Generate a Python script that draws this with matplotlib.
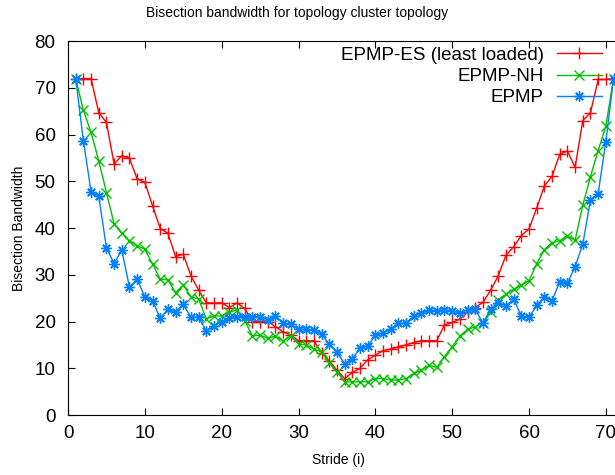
import matplotlib
matplotlib.use("Agg")
from matplotlib import pyplot as plt

plt.rcParams['font.family'] = ['Liberation Sans', 'DejaVu Sans']

stride = list(range(1, 72))

epmp_es = [72, 72, 72, 64.7, 62.6, 53.7, 55.5, 54.9, 50.5, 49.8,
           44.8, 39.9, 38.9, 33.9, 34.4, 29.8, 26.7, 24.0, 24.0, 24.0,
           23.0, 24.0, 22.8, 20.0, 20.0, 20.0, 18.9, 17.8, 17.1, 15.9,
           15.9, 15.9, 13.3, 11.6, 9.6, 7.8, 9.1, 10.0, 11.8, 12.8,
           13.8, 14.1, 14.6, 15.0, 15.5, 15.9, 15.9, 15.9, 19.3, 19.8,
           20.5, 22.0, 23.0, 24.1, 26.7, 29.8, 34.2, 36.0, 38.4, 39.8,
           44.3, 49.0, 51.1, 55.8, 56.5, 53.0, 63.0, 64.7, 71.8, 71.8,
           72]

epmp_nh = [72, 65.2, 60.5, 54.4, 47.6, 40.9, 38.9, 37.3, 36.2, 35.5,
           32.3, 29.1, 28.9, 26.2, 27.8, 25.3, 24.8, 20.6, 21.2, 21.2,
           22.0, 22.5, 20.2, 16.9, 17.1, 16.4, 16.9, 15.9, 16.9, 15.2,
           15.0, 14.1, 13.5, 11.1, 9.3, 7.1, 7.1, 7.1, 7.1, 7.8,
           7.8, 7.5, 7.5, 7.8, 8.9, 9.6, 10.6, 10.2, 12.5, 14.6,
           16.9, 18.3, 18.9, 19.7, 22.1, 24.6, 25.8, 26.9, 27.8, 28.7,
           32.4, 35.4, 36.9, 37.3, 38.3, 37.4, 44.9, 51.0, 56.6, 61.8,
           72]

epmp = [72, 58.7, 47.8, 46.8, 35.8, 32.4, 35.3, 27.3, 29.1, 25.2,
        24.5, 20.7, 22.6, 22.0, 23.7, 20.9, 20.9, 18.0, 19.1, 20.0,
        20.7, 21.0, 21.0, 21.0, 21.0, 20.3, 21.2, 19.7, 19.4, 18.3,
        18.3, 18.1, 17.4, 15.1, 13.4, 11.0, 12.0, 14.3, 14.7, 17.1,
        17.5, 18.4, 19.6, 19.7, 21.2, 21.8, 22.4, 22.3, 22.5, 22.2,
        21.9, 22.5, 22.7, 19.6, 22.7, 24.0, 23.4, 24.8, 21.2, 20.9,
        23.5, 25.2, 24.5, 28.5, 28.3, 31.7, 36.6, 46.0, 47.4, 58.5,
        72]

fig = plt.figure(figsize=(6.15, 4.75), dpi=100)
ax = fig.add_axes([0.1106, 0.1263, 0.8995, 0.787])

ax.plot(stride, epmp_es, color="#ff0000", lw=1, marker="+", ms=8, mew=1,
        label="EPMP-ES (least loaded)")
ax.plot(stride, epmp_nh, color="#00c000", lw=1, marker="x", ms=6.5, mew=1,
        label="EPMP-NH")
ax.plot(stride, epmp, color="#0080ff", lw=1, marker=(8, 2, 0), ms=7.5, mew=1,
        label="EPMP")

ax.set_xlim(0, 72)
ax.set_ylim(0, 80)
ax.set_xticks(range(0, 80, 10))
ax.set_yticks(range(0, 90, 10))
ax.tick_params(direction="in", length=5, top=True, right=False, labelsize=13.5)
ax.tick_params(axis="x", pad=7)
ax.tick_params(axis="y", pad=9)

# title sits centred on the whole canvas, not on the axes
fig.text(0.483, 0.973, "Bisection bandwidth for topology cluster topology",
         fontsize=10, ha="center", va="center")
ax.set_xlabel("Stride (i)", fontsize=10, labelpad=8, x=0.489)
ax.set_ylabel("Bisection Bandwidth", fontsize=10, labelpad=6)

ax.legend(loc="upper right", bbox_to_anchor=(0.985, 1.015), frameon=False,
          markerfirst=False, fontsize=13.5, handlelength=2.4,
          labelspacing=0.22, handletextpad=0.7, borderaxespad=0.2)

plt.savefig("out.png")
